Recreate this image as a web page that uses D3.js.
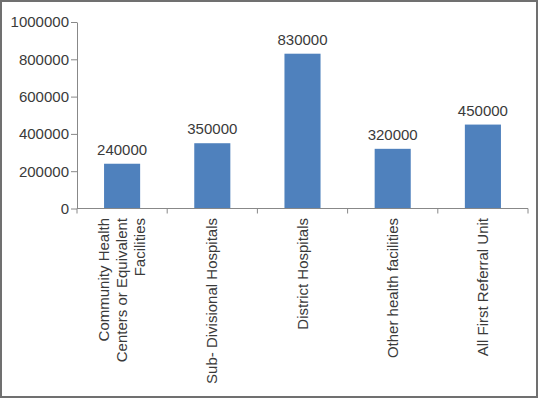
<!DOCTYPE html>
<html><head><meta charset="utf-8">
<script src="https://cdn.jsdelivr.net/npm/d3@7"></script>
<style>
html,body{margin:0;padding:0;background:#fff;}
svg{display:block;}
text{font-family:"Liberation Sans",Arial,sans-serif;fill:#3a3a3a;}
</style></head>
<body>
<svg id="c" width="538" height="398"></svg>
<script>
const categories = [
  ["Community Health", "Centers or Equivalent", "Facilities"],
  ["Sub- Divisional Hospitals"],
  ["District Hospitals"],
  ["Other health facilities"],
  ["All First Referral Unit"]
];
const values = [240000, 350000, 830000, 320000, 450000];
const yTicks = [0, 200000, 400000, 600000, 800000, 1000000];

(function(){
const svg = d3.select("#c");
const W = 538, H = 398;
svg.append("rect").attr("x",1).attr("y",1).attr("width",W-2).attr("height",H-2)
  .attr("fill","#fff").attr("stroke","#707070").attr("stroke-width",2);

const mL = 77, mR = 528, mT = 22, mB = 208.5;
const x = d3.scaleBand().domain(d3.range(values.length)).range([mL, mR]).paddingInner(0.6).paddingOuter(0.3);
const y = d3.scaleLinear().domain([0, 1000000]).range([mB, mT]);

svg.selectAll("rect.bar").data(values).enter().append("rect")
  .attr("class","bar")
  .attr("x",(d,i)=>x(i)).attr("width",x.bandwidth())
  .attr("y",d=>y(d)).attr("height",d=>y(0)-y(d))
  .attr("fill","#4f81bd");

svg.selectAll("text.val").data(values).enter().append("text")
  .attr("class","val")
  .attr("x",(d,i)=>x(i)+x.bandwidth()/2).attr("y",d=>y(d)-9)
  .attr("text-anchor","middle").style("font-size","15px")
  .text(d=>d);

const yAxis = d3.axisLeft(y).tickValues(yTicks).tickSize(6).tickSizeOuter(0).tickPadding(2).tickFormat(d3.format("d"));
const gy = svg.append("g").attr("transform",`translate(${mL},0)`).call(yAxis);
gy.selectAll("path,line").attr("stroke","#888");
gy.selectAll("text").style("font-size","15px").attr("fill","#3a3a3a");
gy.attr("font-family",null);

const bounds = d3.range(values.length+1).map(i=>mL + i*(mR-mL)/values.length);
svg.append("line").attr("x1",mL).attr("x2",mR).attr("y1",mB).attr("y2",mB).attr("stroke","#888");
svg.selectAll("line.xt").data(bounds).enter().append("line")
  .attr("x1",d=>d).attr("x2",d=>d).attr("y1",mB).attr("y2",mB+5).attr("stroke","#888");

const lineH = 18;
categories.forEach((lines,i)=>{
  const cx = x(i)+x.bandwidth()/2;
  const n = lines.length;
  lines.forEach((ln,j)=>{
    const off = (j-(n-1)/2)*lineH;
    svg.append("text")
      .attr("transform",`translate(${cx+off+5},218) rotate(-90)`)
      .attr("text-anchor","end").style("font-size","15px")
      .text(ln);
  });
});
})();
</script>
</body></html>
